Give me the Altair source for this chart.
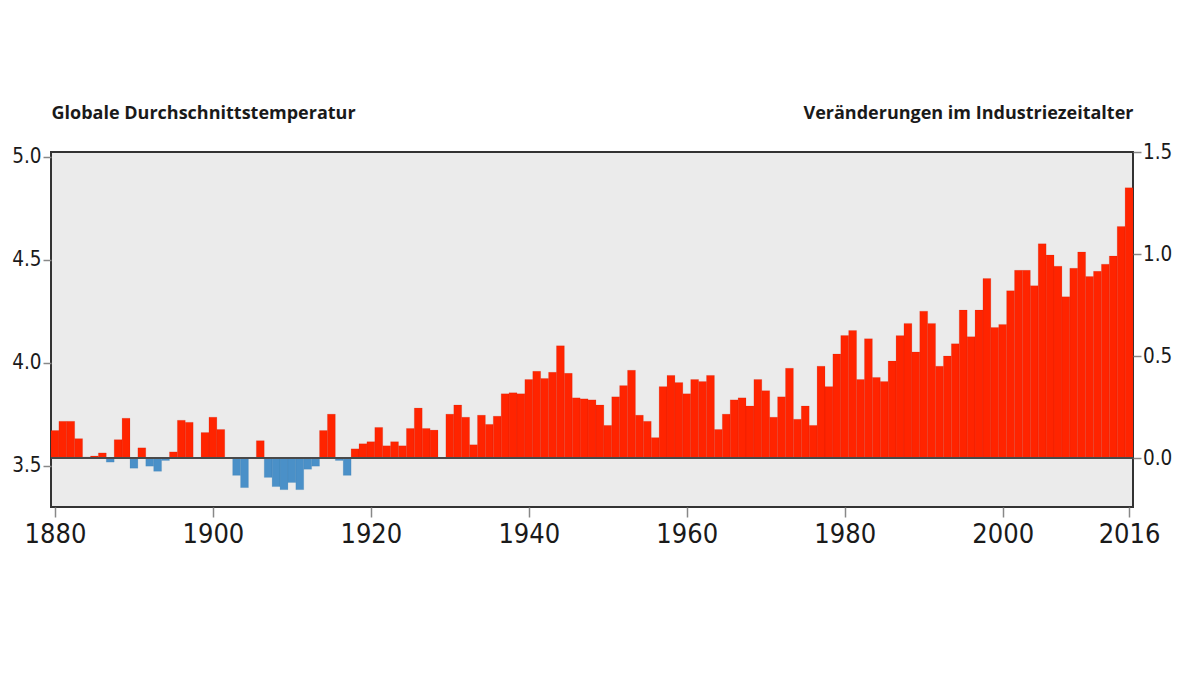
import altair as alt
import pandas as pd

# Years and temperature change (°C) relative to the start of the industrial era
years = list(range(1880, 2017))
anomaly = [
    0.135, 0.18, 0.18, 0.095, 0.005, 0.01, 0.025, -0.02, 0.09, 0.195,      # 1880-1889
    -0.05, 0.05, -0.04, -0.065, -0.012, 0.03, 0.185, 0.175, 0.0, 0.125,    # 1890-1899
    0.2, 0.14, 0.0, -0.085, -0.145, 0.003, 0.085, -0.095, -0.14, -0.155,   # 1900-1909
    -0.12, -0.155, -0.055, -0.04, 0.135, 0.215, -0.012, -0.085, 0.045, 0.07,  # 1910-1919
    0.08, 0.15, 0.06, 0.08, 0.06, 0.145, 0.245, 0.145, 0.137, 0.0,         # 1920-1929
    0.215, 0.26, 0.2, 0.065, 0.21, 0.165, 0.205, 0.315, 0.32, 0.315,       # 1930-1939
    0.385, 0.425, 0.39, 0.42, 0.55, 0.415, 0.295, 0.29, 0.285, 0.26,       # 1940-1949
    0.16, 0.3, 0.355, 0.43, 0.21, 0.18, 0.1, 0.35, 0.405, 0.37,            # 1950-1959
    0.315, 0.385, 0.375, 0.405, 0.14, 0.215, 0.285, 0.295, 0.255, 0.385,   # 1960-1969
    0.33, 0.2, 0.3, 0.44, 0.19, 0.255, 0.16, 0.45, 0.35, 0.51,             # 1970-1979
    0.6, 0.625, 0.385, 0.585, 0.395, 0.375, 0.475, 0.6, 0.66, 0.52,        # 1980-1989
    0.72, 0.66, 0.45, 0.5, 0.56, 0.725, 0.595, 0.725, 0.88, 0.64,          # 1990-1999
    0.655, 0.82, 0.92, 0.92, 0.845, 1.05, 0.995, 0.94, 0.79, 0.93,         # 2000-2009
    1.01, 0.89, 0.915, 0.95, 0.99, 1.135, 1.325,                           # 2010-2016
]
assert len(years) == len(anomaly)

x_ticks = [1880, 1900, 1920, 1940, 1960, 1980, 2000, 2016]
right_ticks = [0.0, 0.5, 1.0, 1.5]
left_ticks = [13.5, 14.0, 14.5, 15.0]   # global mean temperature, °C

left_title = "Globale Durchschnittstemperatur"
right_title = "Veränderungen im Industriezeitalter"

df = pd.DataFrame({"year": years, "anomaly": anomaly})
df["x0"] = df["year"] - 0.5
df["x1"] = df["year"] + 0.5
left_df = pd.DataFrame({"temp": left_ticks})

RED = "#ff2400"
BLUE = "#4a90c8"
LABEL_FONT = "DejaVu Sans Condensed, DejaVu Sans, sans-serif"
TITLE_FONT = "Open Sans, sans-serif"

x_enc = alt.X(
    "x0:Q",
    scale=alt.Scale(domain=[1879.5, 2016.5], nice=False, zero=False),
    axis=alt.Axis(
        values=x_ticks, format="d", title=None, domain=False, grid=False,
        tickSize=10, tickWidth=1.5, tickColor="#888888",
        labelFont=LABEL_FONT, labelFontSize=27, labelPadding=4, labelColor="#1a1a1a",
        labelFlush=False,
    ),
)

right_scale = alt.Scale(domain=[-0.24, 1.5], nice=False, zero=False)

bars = alt.Chart(df).mark_rect(strokeWidth=0.4, strokeOpacity=0.35).encode(
    x=x_enc,
    x2="x1:Q",
    y=alt.Y(
        "anomaly:Q",
        scale=right_scale,
        axis=alt.Axis(
            orient="right", values=right_ticks, format=".1f", domain=False, grid=False,
            tickSize=8, tickWidth=1.5, tickColor="#888888",
            labelFont=LABEL_FONT, labelFontSize=20.5, labelPadding=1.5, labelColor="#1a1a1a",
            labelFlush=False,
            title=right_title, titleAngle=0, titleAlign="right", titleBaseline="alphabetic",
            titleX=0, titleY=-34, titleFont=TITLE_FONT, titleFontSize=18,
            titleFontWeight="bold", titleColor="#1a1a1a",
        ),
    ),
    y2=alt.datum(0),
    color=alt.condition(alt.datum.anomaly >= 0, alt.value(RED), alt.value(BLUE)),
    stroke=alt.condition(alt.datum.anomaly >= 0, alt.value("#b01800"), alt.value("#2f6f9f")),
)

zero_line = alt.Chart(df).mark_rule(color="#4a4a4a", strokeWidth=1.6).encode(
    y=alt.datum(0)
)

left_axis = alt.Chart(left_df).mark_point(opacity=0).encode(
    y=alt.Y(
        "temp:Q",
        scale=alt.Scale(domain=[13.30, 15.024], nice=False, zero=False),
        axis=alt.Axis(
            orient="left", values=left_ticks, domain=False, grid=False,
            labelExpr="substring(format(datum.value, '.1f'), 1)",
            tickSize=8, tickWidth=1.5, tickColor="#888888",
            labelFont=LABEL_FONT, labelFontSize=20.5, labelPadding=2, labelColor="#1a1a1a",
            labelFlush=False,
            title=left_title, titleAngle=0, titleAlign="left", titleBaseline="alphabetic",
            titleX=0, titleY=-34, titleFont=TITLE_FONT, titleFontSize=18,
            titleFontWeight="bold", titleColor="#1a1a1a",
        ),
    ),
)

chart = (
    alt.layer(left_axis, bars + zero_line)
    .resolve_scale(y="independent")
    .properties(
        width=1082,
        height=355,
        autosize=alt.AutoSizeParams(type="none"),
        padding={"left": 43, "top": 144, "right": 39, "bottom": 60},
        background="white",
    )
    .configure_view(fill="#ebebeb", stroke="#333333", strokeWidth=2)
    .configure_axis(grid=False)
)

chart.save("out.html", embed_options={"renderer": "svg", "actions": False})
